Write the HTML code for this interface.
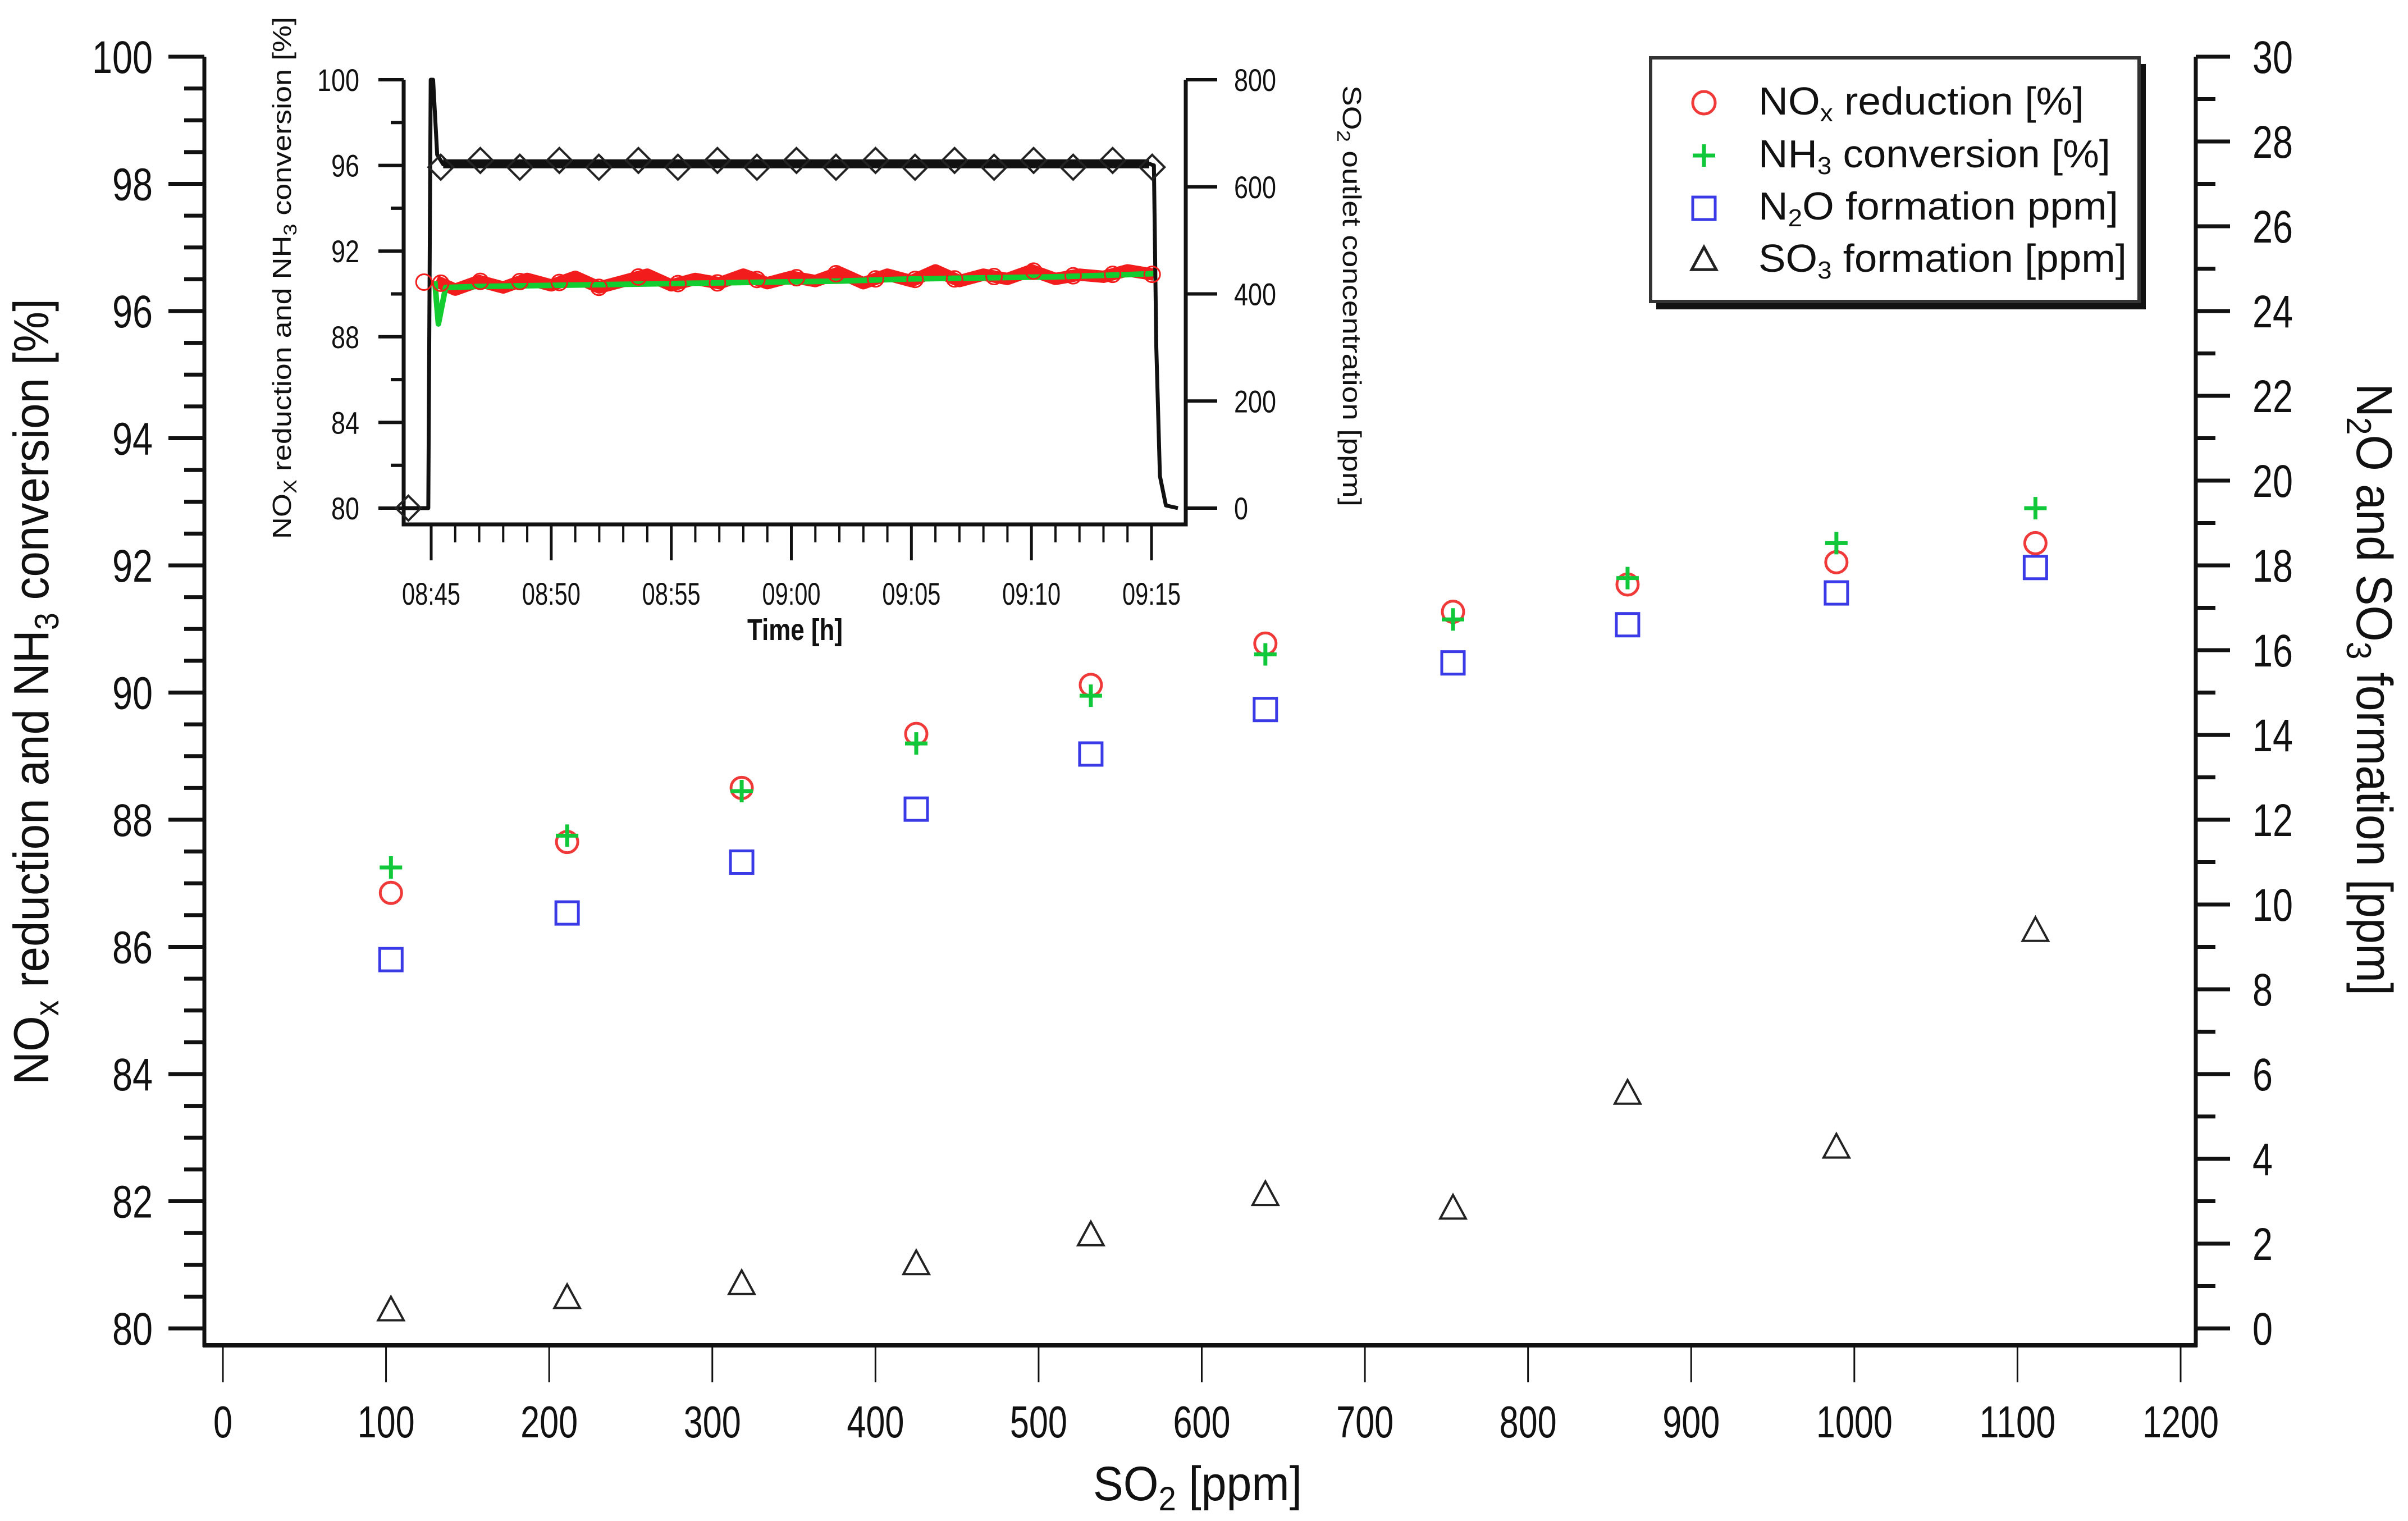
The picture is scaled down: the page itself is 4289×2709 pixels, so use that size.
<!DOCTYPE html>
<html><head><meta charset="utf-8"><style>
html,body{margin:0;padding:0;background:#fff;}
svg{display:block;font-family:"Liberation Sans",Arial,sans-serif;}
</style></head><body>
<svg id="chart" xmlns="http://www.w3.org/2000/svg" width="4289" height="2709" viewBox="0 0 4289 2709">
<rect width="4289" height="2709" fill="#fff"/>
<g id="main"></g>
<g id="inset"></g>
<g id="legend"></g>
</svg>
<script>
// ---- main chart data ----
const so2Ppm = [103, 211, 318, 425, 532, 639, 754, 861, 989, 1111];
const noxReduction = [86.85, 87.65, 88.5, 89.35, 90.12, 90.77, 91.27, 91.7, 92.05, 92.35];
const nh3Conversion = [87.25, 87.75, 88.45, 89.2, 89.95, 90.6, 91.15, 91.8, 92.35, 92.9];
const n2oFormation = [8.7, 9.8, 11.0, 12.25, 13.55, 14.6, 15.7, 16.6, 17.35, 17.95];
const so3Formation = [0.43, 0.72, 1.05, 1.52, 2.2, 3.15, 2.83, 5.54, 4.27, 9.38];
const xTicks = [0,100,200,300,400,500,600,700,800,900,1000,1100,1200];
const leftTicks = [80,82,84,86,88,90,92,94,96,98,100];
const rightTicks = [0,2,4,6,8,10,12,14,16,18,20,22,24,26,28,30];
// ---- inset data ----
const so2Times = [-1.15,-0.12,-0.02,0.08,0.25,0.5,3,6,9,12,15,18,21,24,27,29.9,30.1,30.2,30.35,30.6,31.1];
const so2Outlet = [0,0,800,800,660,642,643,641,644,642,643,642,644,643,642,643,640,300,60,5,0];
const redTimes = [0.2,1,2,3,4,5,6,7,8,9,10,11,12,13,14,15,16,17,18,19,20,21,22,23,24,25,26,27,28,29,30.1];
const redValues = [90.6,90.2,90.6,90.3,90.7,90.4,90.8,90.3,90.6,90.9,90.4,90.7,90.5,90.9,90.5,90.8,90.6,91.0,90.5,90.9,90.6,91.1,90.6,90.9,90.7,91.1,90.7,90.9,90.8,91.1,90.9];
const greenTimes = [0.15,0.3,0.6,2,5,8,11,14,17,20,23,26,29,30.1];
const greenValues = [90.6,88.6,90.3,90.35,90.4,90.45,90.5,90.55,90.6,90.7,90.75,90.8,90.9,90.95];
const timeLabels = ["08:45","08:50","08:55","09:00","09:05","09:10","09:15"];
const insetLeftTicks = [80,84,88,92,96,100];
const insetRightTicks = [0,200,400,600,800];

const NS="http://www.w3.org/2000/svg";
function mk(parent, tag, attrs){const e=document.createElementNS(NS,tag);for(const k in attrs)e.setAttribute(k,attrs[k]);parent.appendChild(e);return e;}
function txt(parent, s, x, y, size, anchor, len){const t=mk(parent,'text',{x:x,y:y,'font-size':size,'text-anchor':anchor||'start',fill:'#111'});t.textContent=s;if(len){t.setAttribute('textLength',len);t.setAttribute('lengthAdjust','spacingAndGlyphs');}return t;}

const X=v=>397+(v-0)*(3884-397)/1200;
const YL=v=>2366-(v-80)*(2366-101)/20;
const YR=v=>2366-v*(2366-101)/30;

const main=document.getElementById('main');
let e;
e=mk(main,'line',{x1:364,y1:101,x2:364,y2:2399,stroke:'#111','stroke-width':7});

e=mk(main,'line',{x1:3911,y1:101,x2:3911,y2:2399,stroke:'#111','stroke-width':7});

e=mk(main,'line',{x1:361,y1:2396,x2:3914,y2:2396,stroke:'#111','stroke-width':8});

for(let v=80;v<=100.001;v+=0.5){const y=YL(v);const major=Math.abs(v/2-Math.round(v/2))<1e-6;
 const l=mk(main,'line',{x1:major?300:328,y1:y,x2:364,y2:y,stroke:'#111','stroke-width':7});
 }
leftTicks.forEach(v=>{const t=txt(main,String(v),272,YL(v)+29,82,'end',String(v).length*36);
 });
for(let v=0;v<=30;v+=1){const y=YR(v);const major=v%2===0;
 const l=mk(main,'line',{x1:3911,y1:y,x2:major?3972:3946,y2:y,stroke:'#111','stroke-width':7});
 }
rightTicks.forEach(v=>{const t=txt(main,String(v),4012,YR(v)+29,82,'start',String(v).length*36);
 });
xTicks.forEach(v=>{const l=mk(main,'line',{x1:X(v),y1:2396,x2:X(v),y2:2462,stroke:'#111','stroke-width':3});
 
 const t=txt(main,String(v),X(v),2560,80,'middle',String(v).length*34);
 });
let tt=mk(main,'text',{x:0,y:0,'font-size':88,'text-anchor':'middle',fill:'#111',transform:'translate(86,1232) rotate(-90)',textLength:1400,lengthAdjust:'spacingAndGlyphs'});
tt.innerHTML='NO<tspan font-size="60" dy="18">x</tspan><tspan dy="-18"> reduction and NH</tspan><tspan font-size="60" dy="18">3</tspan><tspan dy="-18"> conversion [%]</tspan>';

tt=mk(main,'text',{x:0,y:0,'font-size':90,'text-anchor':'middle',fill:'#111',transform:'translate(4198,1228) rotate(90)',textLength:1090,lengthAdjust:'spacingAndGlyphs'});
tt.innerHTML='N<tspan font-size="62" dy="18">2</tspan><tspan dy="-18">O and SO</tspan><tspan font-size="62" dy="18">3</tspan><tspan dy="-18"> formation [ppm]</tspan>';

tt=mk(main,'text',{x:2133,y:2672,'font-size':86,'text-anchor':'middle',fill:'#111',textLength:372,lengthAdjust:'spacingAndGlyphs'});
tt.innerHTML='SO<tspan font-size="60" dy="18">2</tspan><tspan dy="-18"> [ppm]</tspan>';


function circle(g,x,y,r,c,w){return mk(g,'circle',{cx:x,cy:y,r:r,fill:'none',stroke:c,'stroke-width':w});}
function plus(g,x,y,s,c,w){return mk(g,'path',{d:`M${x-s} ${y}H${x+s}M${x} ${y-s}V${y+s}`,stroke:c,'stroke-width':w,fill:'none'});}
function square(g,x,y,s,c,w){return mk(g,'rect',{x:x-s,y:y-s,width:2*s,height:2*s,fill:'none',stroke:c,'stroke-width':w});}
function tri(g,x,y,s,c,w){return mk(g,'path',{d:`M${x} ${y-s}L${x+s*0.95} ${y+s*0.75}L${x-s*0.95} ${y+s*0.75}Z`,fill:'none',stroke:c,'stroke-width':w});}
function diamond(g,x,y,s,c,w){return mk(g,'path',{d:`M${x} ${y-s}L${x+s} ${y}L${x} ${y+s}L${x-s} ${y}Z`,fill:'none',stroke:c,'stroke-width':w});}

so2Ppm.forEach((s,i)=>{
 let m=square(main,X(s),YR(n2oFormation[i]),20,'#3a3ae6',5);
 
 m=tri(main,X(s),YR(so3Formation[i]),24,'#222',4);
 
 m=circle(main,X(s),YL(noxReduction[i]),19,'#f03a3a',5);
 
 m=plus(main,X(s),YL(nh3Conversion[i]),20,'#10c83a',7);
 
});

// ---- inset ----
const inset=document.getElementById('inset');
const TX=t=>768+t*(2051-768)/30;
const IYL=v=>905-(v-80)*(905-142)/20;
const IYR=v=>905-v*(905-142)/800;
e=mk(inset,'path',{d:'M719 142V934H2112V142',fill:'none',stroke:'#111','stroke-width':7});

for(let v=80;v<=100;v+=2){const maj=(v%4===0);const l=mk(inset,'line',{x1:maj?674:696,y1:IYL(v),x2:719,y2:IYL(v),stroke:'#111','stroke-width':6});
 }
insetLeftTicks.forEach(v=>{const t=txt(inset,String(v),640,IYL(v)+20,56,'end',String(v).length*25);
 });
insetRightTicks.forEach(v=>{const l=mk(inset,'line',{x1:2112,y1:IYR(v),x2:2168,y2:IYR(v),stroke:'#111','stroke-width':6});
 
 const t=txt(inset,String(v),2198,IYR(v)+20,56,'start',String(v).length*25);
 });
for(let m=0;m<=30;m++){const maj=m%5===0;const l=mk(inset,'line',{x1:TX(m),y1:934,x2:TX(m),y2:maj?998:966,stroke:'#111','stroke-width':maj?5:4});
 }
timeLabels.forEach((s,i)=>{const t=txt(inset,s,TX(i*5),1077,56,'middle',104);
 });
e=txt(inset,'Time [h]',1416,1140,54,'middle',170);
e.setAttribute('font-weight','bold');

tt=mk(inset,'text',{x:0,y:0,'font-size':46,'text-anchor':'middle',fill:'#111',transform:'translate(518,495) rotate(-90)',textLength:930,lengthAdjust:'spacingAndGlyphs'});
tt.innerHTML='NO<tspan font-size="32" dy="10">X</tspan><tspan dy="-10"> reduction and NH</tspan><tspan font-size="32" dy="10">3</tspan><tspan dy="-10"> conversion [%]</tspan>';

tt=mk(inset,'text',{x:0,y:0,'font-size':46,'text-anchor':'middle',fill:'#111',transform:'translate(2392,527) rotate(90)',textLength:750,lengthAdjust:'spacingAndGlyphs'});
tt.innerHTML='SO<tspan font-size="32" dy="10">2</tspan><tspan dy="-10"> outlet concentration [ppm]</tspan>';


function poly(g,ts,vs,yf,c,w){return mk(g,'polyline',{points:ts.map((t,i)=>TX(t)+','+yf(vs[i])).join(' '),fill:'none',stroke:c,'stroke-width':w,'stroke-linejoin':'round'});}
let pl=poly(inset,redTimes,redValues,IYL,'#f21c1c',22);

pl=poly(inset,greenTimes,greenValues,IYL,'#12cc30',10);

pl=poly(inset,so2Times,so2Outlet,IYR,'#111',7);

pl=mk(inset,'line',{x1:TX(0.5),y1:IYR(643),x2:TX(29.9),y2:IYR(643),stroke:'#111','stroke-width':16});

function interp(ts,vs,t){for(let i=1;i<ts.length;i++){if(t<=ts[i]){const f=(t-ts[i-1])/(ts[i]-ts[i-1]);return vs[i-1]+f*(vs[i]-vs[i-1]);}}return vs[vs.length-1];}
for(let k=0;k<19;k++){const t=0.4+k*1.646;
 let d=diamond(inset,TX(t),IYR(643)+(k%2?-6:6),22,'#222',4);
 
 let c=circle(inset,TX(t),IYL(interp(redTimes,redValues,t)),14,'#f21c1c',3);
 }
let d0=diamond(inset,TX(-0.95),IYR(0),22,'#222',4);

let c0=circle(inset,TX(-0.3),IYL(90.55),14,'#f21c1c',3);


// ---- legend ----
const lg=document.getElementById('legend');
e=mk(lg,'rect',{x:2950,y:114,width:872,height:437,fill:'#111'});

e=mk(lg,'rect',{x:2940,y:103,width:870,height:434,fill:'#fff',stroke:'#333','stroke-width':6});

let s=circle(lg,3035,183,20,'#f03a3a',5);
s=plus(lg,3035,277,20,'#10c83a',7);
s=square(lg,3035,371,20,'#3a3ae6',5);
s=tri(lg,3035,463,23,'#222',5);
const legendRows=[
 ['NO<tspan font-size="44" dy="12">x</tspan><tspan dy="-12"> reduction [%]</tspan>',204,580,'legend-entry-nox'],
 ['NH<tspan font-size="44" dy="12">3</tspan><tspan dy="-12"> conversion [%]</tspan>',298,627,'legend-entry-nh3'],
 ['N<tspan font-size="44" dy="12">2</tspan><tspan dy="-12">O formation ppm]</tspan>',391,641,'legend-entry-n2o'],
 ['SO<tspan font-size="44" dy="12">3</tspan><tspan dy="-12"> formation [ppm]</tspan>',484,656,'legend-entry-so3']];
legendRows.forEach(r=>{const t=mk(lg,'text',{x:3132,y:r[1],'font-size':70,fill:'#111',textLength:r[2],lengthAdjust:'spacingAndGlyphs'});t.innerHTML=r[0];
 });
</script>
</body></html>
